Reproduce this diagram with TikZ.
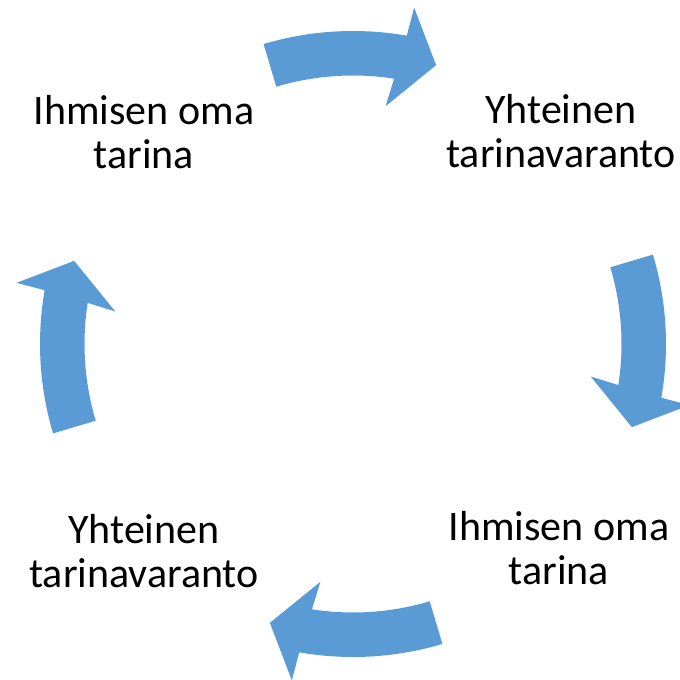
\documentclass[tikz,border=0pt]{standalone}
\usepackage{fontspec}
\setmainfont{Carlito}
\definecolor{arrowblue}{HTML}{5B9BD5}
\begin{document}
\begin{tikzpicture}[x=0.5pt,y=0.5pt,
cyclearrow/.style={fill=arrowblue,draw=none},
storytext/.style={font=\fontsize{21}{22}\selectfont,align=center,anchor=base,inner sep=0pt},
]
\useasboundingbox (0,0) rectangle (680,680);
\coordinate (c) at (353,336);

% block arrows, clockwise
\foreach \m in {90,0,-90,-180}{
\fill[cyclearrow,shift={(c)}] (\m+16.6:313) arc[start angle=\m+16.6, end angle=\m-9.9, radius=313]
 -- (\m-10.3:342) -- (\m-16.6:291) -- (\m-7.8:240) -- (\m-8.8:268.5)
 arc[start angle=\m-8.8, end angle=\m+16.6, radius=268.5] -- cycle;
}

\node[storytext] (ownA) at (144,511) {Ihmisen oma\\tarina};
\node[storytext] (sharedA) at (561,512) {Yhteinen\\tarinavaranto};
\node[storytext] (ownB) at (559,95) {Ihmisen oma\\tarina};
\node[storytext] (sharedB) at (144,92) {Yhteinen\\tarinavaranto};
\end{tikzpicture}
\end{document}
